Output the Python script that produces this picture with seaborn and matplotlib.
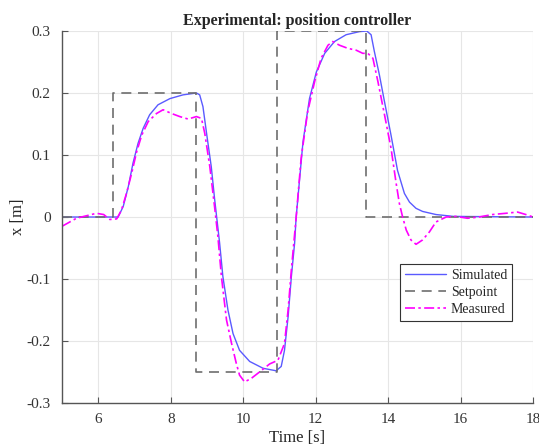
import seaborn as sns
import pandas as pd
import matplotlib.pyplot as plt

# data
sim_t = [5.0, 6.4, 6.55, 6.69, 6.83, 6.96, 7.1, 7.24, 7.42, 7.65, 7.98, 8.34, 8.71, 8.8, 8.89, 8.99,
         9.12, 9.21, 9.35, 9.44, 9.58, 9.72, 9.9, 10.18, 10.55, 10.91, 11.05, 11.14, 11.24, 11.33,
         11.42, 11.46, 11.65, 11.83, 12.02, 12.25, 12.52, 12.84, 13.21, 13.41, 13.53, 13.62, 13.76,
         13.9, 14.08, 14.26, 14.45, 14.59, 14.77, 14.95, 15.32, 15.8, 18.0]
sim_x = [0.0, 0.0, 0.0, 0.017, 0.049, 0.087, 0.119, 0.143, 0.165, 0.181, 0.191, 0.197, 0.2, 0.197,
         0.178, 0.135, 0.081, 0.03, -0.042, -0.096, -0.15, -0.188, -0.215, -0.233, -0.244, -0.248,
         -0.241, -0.215, -0.161, -0.096, -0.042, -0.002, 0.121, 0.191, 0.234, 0.264, 0.283, 0.294,
         0.299, 0.3, 0.294, 0.267, 0.229, 0.186, 0.132, 0.075, 0.038, 0.024, 0.014, 0.009, 0.004,
         0.001, 0.0]

set_t = [5.0, 6.4, 6.4, 8.7, 8.7, 10.92, 10.92, 13.39, 13.39, 18.0]
set_x = [0.0, 0.0, 0.2, 0.2, -0.25, -0.25, 0.3, 0.3, 0.0, 0.0]

meas_t = [5.0, 5.4, 5.95, 6.15, 6.32, 6.51, 6.64, 6.78, 6.92, 7.06, 7.2, 7.38, 7.61, 7.79, 8.02,
          8.25, 8.48, 8.71, 8.85, 8.94, 9.08, 9.21, 9.3, 9.4, 9.54, 9.68, 9.81, 9.9, 10.04, 10.23,
          10.45, 10.73, 10.96, 11.14, 11.24, 11.33, 11.46, 11.6, 11.78, 11.97, 12.15, 12.34, 12.47,
          12.66, 12.89, 13.12, 13.3, 13.44, 13.58, 13.72, 13.9, 14.08, 14.22, 14.31, 14.4, 14.5,
          14.63, 14.77, 14.95, 15.14, 15.32, 15.6, 15.87, 16.19, 16.51, 16.88, 17.25, 17.57, 17.8,
          18.0]
meas_x = [-0.015, -0.002, 0.006, 0.004, -0.004, -0.003, 0.011, 0.038, 0.07, 0.105, 0.132, 0.154,
          0.167, 0.173, 0.167, 0.162, 0.158, 0.162, 0.159, 0.135, 0.081, 0.017, -0.03, -0.096,
          -0.166, -0.204, -0.236, -0.255, -0.266, -0.26, -0.25, -0.237, -0.231, -0.204, -0.15,
          -0.085, -0.002, 0.095, 0.17, 0.218, 0.256, 0.277, 0.283, 0.277, 0.272, 0.269, 0.264,
          0.264, 0.256, 0.218, 0.165, 0.111, 0.055, 0.022, 0.0, -0.021, -0.037, -0.044, -0.037,
          -0.024, -0.008, 0.0, 0.001, -0.002, 0.0, 0.004, 0.006, 0.008, 0.004, 0.0]

sns.set_theme(style="whitegrid")
plt.rcParams['font.family'] = ['Liberation Serif', 'DejaVu Serif']

fig = plt.figure(figsize=(5.39, 4.48), dpi=100)
ax = fig.add_axes([0.115, 0.1004, 0.874, 0.8304])

sns.lineplot(x=sim_t, y=sim_x, sort=False, estimator=None, color="#5a5aff", lw=1.0,
             label="Simulated", ax=ax)
sns.lineplot(x=set_t, y=set_x, sort=False, estimator=None, color="#6e6e6e", lw=1.2,
             label="Setpoint", ax=ax)
ax.lines[-1].set_linestyle((0, (6, 4)))
sns.lineplot(x=meas_t, y=meas_x, sort=False, estimator=None, color="#ff00ff", lw=1.2,
             label="Measured", ax=ax)
ax.lines[-1].set_linestyle((0, (6, 2, 1.5, 2)))

ax.set_xlim(5, 18)
ax.set_ylim(-0.3, 0.3)
ax.set_xticks([6, 8, 10, 12, 14, 16, 18])
ax.set_yticks([-0.3, -0.2, -0.1, 0, 0.1, 0.2, 0.3])
ax.set_yticklabels(["-0.3", "-0.2", "-0.1", "0", "0.1", "0.2", "0.3"])
ax.set_xlabel("Time [s]", fontsize=12, color="#262626")
ax.set_ylabel("x [m]", fontsize=12, color="#262626")
ax.xaxis.set_label_coords(0.5, -0.073)
ax.yaxis.set_label_coords(-0.076, 0.5)
ax.set_title("Experimental: position controller", fontsize=11.5, fontweight="bold", pad=4)

ax.grid(True, color="#e6e6e6", lw=0.8)
for s in ["top", "right"]:
    ax.spines[s].set_visible(False)
for s in ["left", "bottom"]:
    ax.spines[s].set_color("#555555")
    ax.spines[s].set_linewidth(1.0)
ax.tick_params(direction="in", length=4, width=0.8, colors="#555555", labelsize=11,
               labelcolor="#333333", bottom=True, left=True)
ax.tick_params(axis="x", pad=7)
ax.tick_params(axis="y", pad=8)

leg = ax.legend(loc="lower right", bbox_to_anchor=(0.955, 0.221), fontsize=10,
                frameon=True, fancybox=False, edgecolor="#333333", framealpha=1,
                handlelength=3.0, borderpad=0.35, labelspacing=0.3, handletextpad=0.3,
                borderaxespad=0)
leg.get_frame().set_linewidth(0.8)

fig.savefig("out.png", dpi=100)
